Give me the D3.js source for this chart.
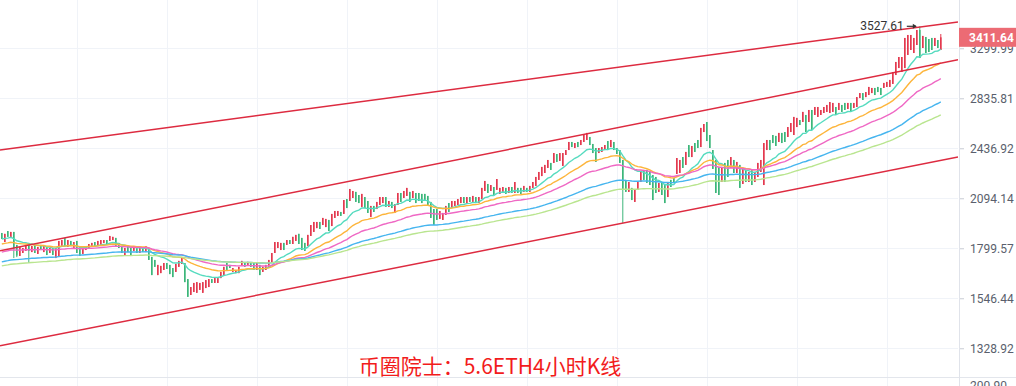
<!DOCTYPE html>
<html>
<head>
<meta charset="utf-8">
<script src="https://cdn.jsdelivr.net/npm/d3@7/dist/d3.min.js"></script>
<style>
  body { margin: 0; background: #fff; }
  svg { display: block; }
</style>
</head>
<body>
<svg id="chart" width="1016" height="386"></svg>
<script>
// ETH 4h candles (oldest first)
var opens = [1885,1834,1896,1857,1891,1818,1758,1774,1785,1829,1779,1818,1769,1818,1779,1807,1774,1801,1747,1758,
  1807,1856,1807,1840,1801,1840,1812,1769,1790,1801,1807,1834,1812,1812,1829,1845,1840,1845,1857,1829,
  1812,1763,1812,1801,1785,1801,1774,1801,1779,1801,1753,1737,1659,1669,1685,1721,1711,1695,1675,1701,
  1716,1721,1639,1562,1576,1572,1586,1572,1595,1600,1639,1620,1620,1644,1659,1721,1711,1675,1669,1669,
  1706,1721,1711,1721,1721,1685,1711,1675,1685,1701,1721,1774,1801,1790,1829,1818,1845,1823,1840,1880,
  1857,1829,1812,1868,1891,1913,1949,1931,1919,1961,1925,1973,1985,2009,1997,2089,2077,2096,2135,2115,
  2040,2102,2077,1979,2046,2027,2052,2064,2102,2040,2071,2003,2052,2128,2096,2109,2135,2096,2128,2128,
  2122,2122,2109,2071,2027,2027,1967,1961,1991,2064,2033,2046,2052,2064,2102,2064,2102,2071,2102,2064,
  2089,2141,2187,2141,2167,2148,2122,2128,2161,2128,2167,2128,2161,2161,2135,2161,2135,2161,2174,2214,
  2240,2261,2296,2331,2331,2395,2345,2310,2388,2424,2484,2439,2484,2461,2484,2499,2522,2469,2439,2402,
  2410,2424,2491,2446,2484,2439,2424,2352,2214,2135,2161,2071,2148,2200,2282,2282,2268,2247,2234,2135,
  2200,2180,2102,2214,2227,2254,2261,2373,2317,2461,2373,2476,2499,2446,2560,2639,2537,2424,2352,2303,
  2200,2331,2352,2296,2352,2261,2317,2187,2282,2200,2282,2200,2234,2268,2180,2424,2499,2537,2530,2484,
  2553,2560,2522,2560,2537,2599,2655,2639,2696,2639,2737,2696,2680,2696,2712,2721,2712,2721,2762,2737,
  2779,2796,2745,2796,2754,2762,2838,2881,2846,2864,2881,2926,2935,2926,2926,2935,2935,2962,3043,3108,
  3071,3108,3234,3283,3253,3333,3488,3303,3415,3394,3405,3323,3384,3283];
var highs = [1885,1880,1896,1891,1891,1818,1807,1801,1818,1829,1812,1818,1807,1818,1812,1807,1801,1801,1801,1840,
  1845,1856,1845,1840,1834,1840,1812,1801,1812,1823,1829,1834,1840,1845,1845,1845,1868,1863,1857,1829,
  1812,1801,1812,1801,1812,1801,1801,1801,1812,1801,1753,1737,1711,1706,1721,1721,1711,1695,1716,1732,
  1747,1721,1639,1600,1620,1624,1620,1624,1634,1639,1639,1644,1644,1675,1701,1721,1711,1695,1685,1701,
  1732,1721,1727,1721,1721,1721,1711,1701,1711,1737,1774,1834,1834,1829,1829,1845,1845,1863,1874,1880,
  1857,1829,1874,1931,1949,1949,1949,1973,1967,1961,1997,2015,2015,2009,2083,2089,2154,2141,2135,2115,
  2122,2102,2077,2046,2046,2071,2102,2102,2102,2077,2071,2058,2128,2128,2141,2161,2135,2141,2128,2128,
  2122,2122,2109,2071,2027,2027,2015,2003,2046,2064,2077,2077,2089,2102,2102,2102,2102,2109,2102,2102,
  2161,2207,2187,2180,2167,2220,2161,2167,2161,2167,2167,2200,2161,2161,2174,2161,2174,2200,2234,2268,
  2303,2317,2352,2331,2402,2395,2402,2402,2424,2484,2484,2476,2484,2499,2537,2553,2522,2469,2439,2439,
  2446,2461,2491,2499,2484,2439,2424,2352,2214,2200,2161,2148,2200,2268,2282,2282,2268,2247,2234,2194,
  2200,2180,2194,2214,2227,2366,2352,2373,2410,2461,2454,2476,2499,2592,2623,2639,2537,2424,2352,2303,
  2296,2331,2352,2373,2352,2338,2317,2296,2282,2268,2282,2268,2331,2352,2476,2499,2499,2537,2530,2553,
  2553,2560,2599,2631,2680,2672,2655,2721,2696,2737,2737,2762,2762,2737,2762,2779,2804,2796,2762,2796,
  2779,2796,2796,2796,2796,2846,2881,2881,2890,2935,2926,2926,2935,2926,2971,2980,2998,3071,3166,3214,
  3214,3405,3436,3436,3405,3488,3527.61,3426,3415,3394,3405,3405,3384,3446];
var lows = [1851,1834,1863,1857,1747,1752,1758,1774,1785,1721,1779,1774,1769,1790,1779,1763,1774,1763,1747,1758,
  1807,1812,1807,1812,1801,1774,1758,1769,1790,1801,1807,1807,1812,1812,1829,1823,1840,1845,1807,1801,
  1774,1763,1779,1763,1785,1774,1774,1779,1779,1737,1659,1701,1659,1669,1685,1690,1664,1649,1675,1701,
  1716,1624,1553,1562,1576,1572,1586,1572,1595,1600,1620,1620,1620,1644,1659,1685,1695,1675,1669,1669,
  1706,1701,1711,1701,1685,1685,1659,1675,1685,1701,1721,1774,1801,1790,1790,1818,1823,1823,1840,1823,
  1790,1785,1812,1868,1891,1913,1908,1931,1919,1896,1925,1973,1985,1985,1997,2033,2077,2096,2071,2064,
  2040,2033,2003,1979,2009,2027,2052,2064,2040,2040,2033,2003,2052,2071,2096,2109,2071,2096,2064,2077,
  2064,2083,2046,1973,1931,1961,1967,1961,1991,2009,2033,2046,2052,2064,2064,2064,2071,2071,2064,2064,
  2089,2141,2128,2141,2115,2148,2122,2128,2122,2128,2128,2128,2128,2122,2135,2135,2135,2161,2174,2214,
  2240,2261,2296,2282,2331,2338,2345,2310,2388,2424,2446,2439,2446,2461,2484,2499,2461,2402,2338,2402,
  2410,2424,2424,2446,2424,2395,2331,1943,2135,2135,2083,2071,2148,2200,2214,2194,2180,2083,2128,2135,
  2115,2064,2102,2167,2194,2254,2261,2296,2317,2373,2373,2410,2439,2446,2560,2491,2439,2289,2128,2115,
  2200,2200,2234,2296,2261,2261,2161,2187,2200,2200,2180,2200,2234,2268,2180,2424,2424,2476,2454,2484,
  2476,2484,2522,2560,2537,2599,2615,2639,2560,2639,2576,2696,2680,2696,2712,2721,2712,2721,2696,2737,
  2721,2737,2745,2721,2754,2762,2838,2821,2846,2864,2881,2864,2890,2864,2926,2935,2935,2962,3043,3108,
  3071,3108,3234,3283,3253,3333,3204,3303,3253,3263,3283,3323,3303,3283];
var closes = [1851,1880,1863,1891,1800,1760,1807,1801,1818,1785,1812,1774,1807,1790,1812,1763,1801,1763,1801,1840,
  1845,1812,1845,1812,1834,1774,1758,1801,1812,1823,1829,1807,1840,1845,1845,1823,1868,1863,1807,1801,
  1774,1801,1779,1763,1812,1774,1801,1779,1812,1737,1659,1701,1711,1706,1721,1690,1664,1649,1716,1732,
  1747,1624,1553,1600,1620,1624,1620,1624,1634,1639,1620,1644,1644,1675,1701,1685,1695,1695,1685,1701,
  1732,1701,1727,1701,1685,1721,1659,1701,1711,1737,1774,1834,1834,1829,1790,1845,1823,1863,1874,1823,
  1790,1785,1874,1931,1949,1949,1908,1973,1967,1896,1997,2015,2015,1985,2083,2033,2154,2141,2071,2064,
  2122,2033,2003,2046,2009,2071,2102,2102,2040,2077,2033,2058,2128,2071,2141,2161,2071,2141,2064,2077,
  2064,2083,2046,1973,1931,1961,2015,2003,2046,2009,2077,2077,2089,2102,2064,2102,2071,2109,2064,2102,
  2161,2207,2128,2180,2115,2220,2161,2167,2122,2167,2128,2200,2128,2122,2174,2135,2174,2200,2234,2268,
  2303,2317,2352,2282,2402,2338,2402,2402,2424,2484,2446,2476,2446,2499,2537,2553,2461,2402,2338,2439,
  2446,2461,2424,2499,2424,2395,2331,2148,2135,2200,2083,2148,2200,2268,2214,2194,2180,2083,2128,2194,
  2115,2064,2194,2167,2194,2366,2352,2296,2410,2373,2454,2410,2439,2592,2623,2491,2439,2289,2128,2115,
  2296,2200,2234,2373,2261,2338,2161,2296,2200,2268,2180,2268,2331,2352,2476,2499,2424,2476,2454,2553,
  2476,2484,2599,2631,2680,2672,2615,2721,2560,2737,2576,2762,2762,2737,2762,2779,2804,2796,2696,2796,
  2721,2737,2796,2721,2796,2846,2881,2821,2890,2935,2926,2864,2890,2864,2971,2980,2998,3071,3166,3214,
  3214,3405,3436,3436,3405,3488,3204,3426,3253,3263,3283,3405,3303,3411.64];

// moving averages (EMA), seeded with the values shown at the left edge
var maPeriods = [15, 30, 50, 90, 120];
var maSeeds = [1851, 1823, 1779, 1727, 1706];
var maColors = ["#55dbbf", "#fdb53b", "#ef68c4", "#46b5ef", "#b9e58f"];

// price axis ticks (log scale)
var priceTicks = [3299.99, 2835.81, 2436.92, 2094.14, 1799.57, 1546.44, 1328.92];
// vertical grid, every 30 candles
var timeGrid = [25, 55, 85, 115, 145, 175, 205, 235, 265, 295];
// channel lines: price at first candle, price at last candle
var trendStart = [2426.8, 1787.5, 1340.2];
var trendEnd = [3550.2, 3153.6, 2348.4];

var lastPrice = 3411.64;
var peakPrice = 3527.61, peakIndex = 306;
var title = "币圈院士：5.6ETH4小时K线";
var volLabel = "200.90";

var W = 1016, H = 386, paneW = 958, paneH = 377;
var up = "#e3394f", down = "#3cb67a";
var axisFont = "Roboto, 'Liberation Sans', sans-serif";

var svg = d3.select("#chart");
var n = closes.length;

var x = d3.scaleLinear().domain([0, n - 1]).range([1.8, 940.8]);
var y = d3.scaleLog().domain([1218.0, 3820.4]).range([paneH, 0]);

svg.append("defs").append("clipPath").attr("id", "pane")
  .append("rect").attr("x", 0).attr("y", 0).attr("width", paneW).attr("height", paneH);

// grid
var grid = svg.append("g");
grid.selectAll("line.h").data(priceTicks).enter().append("line")
  .attr("x1", 0).attr("x2", paneW)
  .attr("y1", function (d) { return Math.round(y(d)) + 0.5; })
  .attr("y2", function (d) { return Math.round(y(d)) + 0.5; })
  .attr("stroke", "#f0f3f8");
grid.selectAll("line.v").data(timeGrid).enter().append("line")
  .attr("y1", 0).attr("y2", H)
  .attr("x1", function (d) { return Math.round(x(d)) + 0.5; })
  .attr("x2", function (d) { return Math.round(x(d)) + 0.5; })
  .attr("stroke", "#f0f3f8");
svg.append("line").attr("x1", 0).attr("x2", W).attr("y1", paneH + 0.5).attr("y2", paneH + 0.5)
  .attr("stroke", "#e3e6ec");

var plot = svg.append("g").attr("clip-path", "url(#pane)");

// candles
var candles = plot.append("g");
candles.selectAll("line").data(closes).enter().append("line")
  .attr("x1", function (d, i) { return x(i); })
  .attr("x2", function (d, i) { return x(i); })
  .attr("y1", function (d, i) { return y(highs[i]); })
  .attr("y2", function (d, i) { return y(lows[i]); })
  .attr("stroke", function (d, i) { return d >= opens[i] ? up : down; })
  .attr("stroke-width", 1);
candles.selectAll("rect").data(closes).enter().append("rect")
  .attr("x", function (d, i) { return x(i) - 0.8; })
  .attr("width", 1.6)
  .attr("y", function (d, i) { return y(Math.max(d, opens[i])); })
  .attr("height", function (d, i) { return Math.max(1, Math.abs(y(d) - y(opens[i]))); })
  .attr("fill", function (d, i) { return d >= opens[i] ? up : down; });

// moving averages
maPeriods.forEach(function (p, k) {
  var a = 2 / (p + 1), v = maSeeds[k], pts = [];
  for (var i = 0; i < n; i++) {
    if (i > 0) v = v + a * (closes[i] - v);
    pts.push([i, v]);
  }
  plot.append("path").datum(pts)
    .attr("fill", "none").attr("stroke", maColors[k]).attr("stroke-width", 1.4)
    .attr("d", d3.line().x(function (d) { return x(d[0]); }).y(function (d) { return y(d[1]); }));
});

// channel lines, extended across the pane
trendStart.forEach(function (p0, k) {
  var x0 = x(0), y0 = y(p0), x1 = x(n - 1), y1 = y(trendEnd[k]);
  var s = (y1 - y0) / (x1 - x0);
  plot.append("line")
    .attr("x1", 0).attr("y1", y0 - s * x0)
    .attr("x2", paneW).attr("y2", y0 + s * (paneW - x0))
    .attr("stroke", "#dd2b40").attr("stroke-width", 1.5);
});

// price axis
var axis = svg.append("g").attr("transform", "translate(959,0)")
  .call(d3.axisRight(y).tickValues(priceTicks).tickFormat(d3.format(".2f")).tickSize(5).tickPadding(6));
axis.select(".domain").remove();
axis.selectAll(".tick line").attr("stroke", "#c8ccd4");
axis.selectAll(".tick text").attr("fill", "#5a5f6d")
  .style("font-family", axisFont).style("font-size", "12px");
svg.append("line").attr("x1", 959.5).attr("x2", 959.5).attr("y1", 0).attr("y2", H).attr("stroke", "#e0e3ea");

svg.append("text").attr("x", 970).attr("y", 390).attr("fill", "#5a5f6d")
  .style("font-family", axisFont).style("font-size", "12px")
  .text(volLabel);

// last price tag
svg.append("rect").attr("x", 959).attr("y", y(lastPrice) - 9.5).attr("width", W - 959).attr("height", 19)
  .attr("fill", "#ec6b74");
svg.append("text").attr("x", 969).attr("y", y(lastPrice)).attr("dy", "0.36em")
  .attr("fill", "#fff").style("font-weight", "bold")
  .style("font-family", axisFont).style("font-size", "12px")
  .text(d3.format(".2f")(lastPrice));

// peak marker
var px = x(peakIndex), py = y(peakPrice);
svg.append("text").attr("x", px - 16).attr("y", py).attr("dy", "0.3em")
  .attr("text-anchor", "end").attr("fill", "#333")
  .style("font-family", axisFont).style("font-size", "12px")
  .text(d3.format(".2f")(peakPrice));
svg.append("line").attr("x1", px - 13).attr("x2", px - 4).attr("y1", py).attr("y2", py)
  .attr("stroke", "#333").attr("stroke-width", 1.2);
svg.append("path").attr("d", "M" + (px - 3) + "," + py + "l-4,-2.5v5z").attr("fill", "#333");

// caption
svg.append("text").attr("x", 490).attr("y", 374).attr("text-anchor", "middle")
  .attr("fill", "#f21c1c")
  .style("font-family", "'Noto Sans CJK SC', sans-serif").style("font-size", "21px")
  .text(title);
</script>
</body>
</html>
